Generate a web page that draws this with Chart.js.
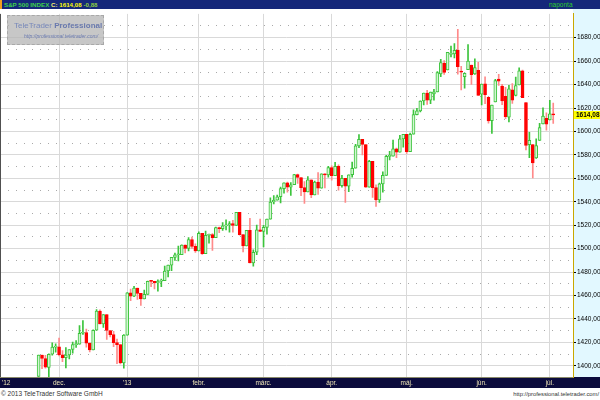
<!DOCTYPE html>
<html><head><meta charset="utf-8">
<script src="https://cdn.jsdelivr.net/npm/chart.js@4/dist/chart.umd.min.js"></script>
<style>
html,body{margin:0;padding:0;background:#fff;width:600px;height:400px;overflow:hidden;font-family:'Liberation Sans',Arial,sans-serif;}
#top{position:absolute;left:0;top:0;width:600px;height:9px;background:#15287a;}
#top .strip{position:absolute;left:0;top:0;width:2px;height:9px;background:#f0a020;}
#top .ttl{position:absolute;left:4px;top:0;font:bold 6.2px/9px 'Liberation Sans',Arial,sans-serif;white-space:nowrap;}
#top .np{position:absolute;left:549px;top:0;font:6.5px/9px 'Liberation Sans',Arial,sans-serif;color:#2ccc2c;white-space:nowrap;}
#wrap{position:absolute;left:0;top:9px;width:600px;height:379px;}
#wm{position:absolute;left:7px;top:15px;width:97px;height:30px;background:rgba(180,180,180,0.75);border:1px dashed #a8a8a8;box-sizing:border-box;}
#wm .t1{position:absolute;left:6px;top:5px;font:8px/9px 'Liberation Sans',Arial,sans-serif;color:#7889bb;white-space:nowrap;}
#wm .t1 b{color:#6a7aae;}
#wm .t2{position:absolute;left:16px;top:17px;font:italic 5px/6px 'Liberation Sans',Arial,sans-serif;color:#6a7ab0;white-space:nowrap;}
#foot1{position:absolute;left:1px;top:389px;font:6.5px/9px 'Liberation Sans',Arial,sans-serif;color:#333;white-space:nowrap;}
#foot2{position:absolute;right:1px;top:390px;font:5.8px/9px 'Liberation Sans',Arial,sans-serif;color:#333;white-space:nowrap;}
</style></head>
<body>
<div id="top"><div class="strip"></div>
<div class="ttl"><span style="color:#3fd24a">S&amp;P 500 INDEX</span> <span style="color:#f4f070">C:</span> <span style="color:#ffff00">1614,08</span> <span style="color:#8fd040">-0,88</span></div>
<div class="np">naponta</div>
</div>
<div id="wrap"><canvas id="c" width="600" height="379"></canvas></div>
<div id="wm"><div class="t1">TeleTrader <b>Professional</b></div><div class="t2">http://professional.teletrader.com/</div></div>
<div id="foot1">© 2013 TeleTrader Software GmbH</div>
<div id="foot2">http://professional.teletrader.com/</div>
<script>
const dates = ["2012-11-23","2012-11-26","2012-11-27","2012-11-28","2012-11-29","2012-11-30",
"2012-12-03","2012-12-04","2012-12-05","2012-12-06","2012-12-07","2012-12-10","2012-12-11","2012-12-12","2012-12-13","2012-12-14","2012-12-17","2012-12-18","2012-12-19","2012-12-20","2012-12-21","2012-12-24","2012-12-26","2012-12-27","2012-12-28","2012-12-31",
"2013-01-02","2013-01-03","2013-01-04","2013-01-07","2013-01-08","2013-01-09","2013-01-10","2013-01-11","2013-01-14","2013-01-15","2013-01-16","2013-01-17","2013-01-18","2013-01-22","2013-01-23","2013-01-24","2013-01-25","2013-01-28","2013-01-29","2013-01-30","2013-01-31",
"2013-02-01","2013-02-04","2013-02-05","2013-02-06","2013-02-07","2013-02-08","2013-02-11","2013-02-12","2013-02-13","2013-02-14","2013-02-15","2013-02-19","2013-02-20","2013-02-21","2013-02-22","2013-02-25","2013-02-26","2013-02-27","2013-02-28",
"2013-03-01","2013-03-04","2013-03-05","2013-03-06","2013-03-07","2013-03-08","2013-03-11","2013-03-12","2013-03-13","2013-03-14","2013-03-15","2013-03-18","2013-03-19","2013-03-20","2013-03-21","2013-03-22","2013-03-25","2013-03-26","2013-03-27","2013-03-28",
"2013-04-01","2013-04-02","2013-04-03","2013-04-04","2013-04-05","2013-04-08","2013-04-09","2013-04-10","2013-04-11","2013-04-12","2013-04-15","2013-04-16","2013-04-17","2013-04-18","2013-04-19","2013-04-22","2013-04-23","2013-04-24","2013-04-25","2013-04-26","2013-04-29","2013-04-30",
"2013-05-01","2013-05-02","2013-05-03","2013-05-06","2013-05-07","2013-05-08","2013-05-09","2013-05-10","2013-05-13","2013-05-14","2013-05-15","2013-05-16","2013-05-17","2013-05-20","2013-05-21","2013-05-22","2013-05-23","2013-05-24","2013-05-28","2013-05-29","2013-05-30","2013-05-31",
"2013-06-03","2013-06-04","2013-06-05","2013-06-06","2013-06-07","2013-06-10","2013-06-11","2013-06-12","2013-06-13","2013-06-14","2013-06-17","2013-06-18","2013-06-19","2013-06-20","2013-06-21","2013-06-24","2013-06-25","2013-06-26","2013-06-27","2013-06-28",
"2013-07-01","2013-07-02"];
const open = [1391.03,1409.15,1406.29,1398.77,1409.96,1415.95,
1416.34,1409.46,1407.05,1409.43,1413.95,1418.07,1418.55,1427.84,1428.48,1419.45,1413.54,1430.47,1446.79,1435.81,1443.67,1430.15,1426.66,1419.83,1418.10,1402.43,
1426.19,1462.42,1459.37,1466.47,1461.89,1457.15,1461.02,1472.12,1472.05,1470.67,1472.33,1472.63,1480.95,1485.98,1492.56,1494.81,1494.82,1502.96,1500.18,1507.84,1501.96,
1498.11,1513.17,1495.71,1511.29,1512.12,1509.39,1517.93,1517.01,1519.43,1520.33,1521.38,1519.79,1530.94,1511.95,1502.42,1515.60,1487.85,1496.94,1515.99,
1514.68,1518.20,1525.20,1539.79,1541.46,1544.26,1551.15,1556.22,1552.48,1554.52,1563.21,1560.70,1552.10,1548.34,1558.71,1545.90,1556.89,1551.69,1563.75,1562.86,
1569.18,1562.17,1570.25,1553.69,1559.98,1553.26,1563.11,1568.61,1587.73,1593.30,1588.84,1552.36,1574.57,1552.03,1541.61,1555.25,1562.50,1578.78,1578.93,1585.16,1582.34,1593.58,
1597.55,1582.77,1597.60,1614.40,1617.55,1625.95,1632.69,1626.69,1632.10,1633.75,1649.13,1658.07,1652.45,1665.71,1666.20,1669.39,1651.62,1646.67,1652.63,1656.57,1649.14,1652.13,
1631.71,1640.73,1629.05,1609.29,1625.27,1644.67,1638.64,1629.94,1612.15,1635.52,1630.64,1639.77,1651.83,1624.62,1588.62,1588.77,1577.52,1592.27,1606.44,1611.12,
1609.78,1614.29];
const high = [1409.16,1409.15,1409.01,1410.31,1419.70,1418.86,
1423.73,1413.14,1415.56,1413.95,1420.34,1421.64,1434.27,1438.59,1431.36,1419.45,1430.67,1448.00,1447.75,1443.70,1443.67,1430.15,1429.42,1422.80,1418.10,1426.74,
1462.43,1465.47,1467.94,1466.47,1461.89,1464.73,1472.30,1472.75,1472.05,1473.31,1473.96,1485.16,1485.98,1492.56,1496.13,1502.27,1503.26,1503.23,1509.35,1509.94,1504.19,
1514.41,1513.17,1514.96,1512.53,1512.90,1518.31,1518.31,1522.29,1524.69,1523.14,1524.24,1530.94,1530.94,1511.95,1515.64,1525.84,1498.99,1520.08,1525.34,
1519.99,1525.27,1543.47,1545.25,1545.78,1552.48,1556.27,1556.77,1556.39,1563.32,1563.62,1560.70,1557.25,1561.56,1558.71,1557.74,1564.91,1563.95,1564.07,1570.28,
1570.57,1573.66,1571.47,1562.60,1559.98,1563.07,1573.89,1589.07,1597.35,1593.30,1588.84,1575.35,1574.57,1554.38,1555.89,1565.55,1579.58,1583.00,1592.64,1585.78,1596.65,1597.57,
1597.55,1598.60,1618.46,1619.77,1626.03,1632.78,1635.01,1633.70,1636.00,1651.10,1661.49,1660.51,1667.47,1672.84,1674.93,1687.18,1655.50,1649.78,1674.21,1656.57,1661.91,1658.99,
1640.42,1646.53,1629.31,1622.56,1644.40,1648.69,1640.13,1637.71,1639.25,1640.80,1646.50,1654.19,1652.45,1624.62,1599.19,1588.77,1593.79,1606.83,1620.07,1615.94,
1626.61,1624.26];
const low = [1391.03,1397.68,1398.03,1385.43,1409.04,1411.63,
1408.46,1403.65,1398.23,1405.93,1410.90,1415.64,1418.55,1426.76,1416.00,1411.88,1413.54,1430.47,1435.80,1432.82,1422.58,1424.66,1416.43,1401.80,1401.58,1398.11,
1426.19,1455.53,1458.99,1456.62,1451.64,1457.15,1461.02,1467.58,1465.69,1463.76,1467.60,1472.63,1475.81,1481.16,1489.90,1489.46,1494.82,1496.33,1498.09,1500.11,1496.76,
1498.11,1495.02,1495.71,1504.71,1498.49,1509.39,1513.61,1515.61,1515.93,1514.02,1514.14,1519.79,1511.41,1497.29,1502.42,1487.85,1485.01,1494.88,1514.46,
1501.48,1512.29,1525.20,1538.11,1541.46,1539.13,1547.36,1548.24,1545.37,1554.52,1555.74,1545.13,1538.57,1548.34,1543.55,1545.90,1546.22,1551.69,1551.90,1561.08,
1558.47,1562.17,1549.80,1552.52,1539.50,1548.63,1560.92,1568.61,1586.17,1579.97,1552.28,1552.36,1543.69,1536.03,1539.40,1548.19,1562.50,1575.80,1578.93,1577.56,1582.34,1586.50,
1581.28,1582.77,1597.60,1614.21,1616.64,1622.70,1623.09,1623.71,1626.74,1633.75,1646.68,1648.60,1652.45,1663.52,1662.67,1648.86,1635.53,1636.88,1652.63,1640.05,1648.61,1630.74,
1622.72,1623.62,1607.09,1598.23,1625.27,1639.26,1622.92,1610.92,1608.07,1623.96,1630.34,1639.77,1628.91,1584.32,1577.70,1560.33,1577.09,1592.27,1606.44,1601.06,
1609.78,1606.77];
const close = [1409.15,1406.29,1398.94,1409.93,1415.95,1416.18,
1409.46,1407.05,1409.28,1413.94,1418.07,1418.55,1427.84,1428.48,1419.45,1413.58,1430.36,1446.79,1435.81,1443.69,1430.15,1426.66,1419.83,1418.10,1402.43,1426.19,
1462.42,1459.37,1466.47,1461.89,1457.15,1461.02,1472.12,1472.05,1470.68,1472.34,1472.63,1480.94,1485.98,1492.56,1494.81,1494.82,1502.96,1500.18,1507.84,1501.96,1498.11,
1513.17,1495.71,1511.29,1512.12,1509.39,1517.93,1517.01,1519.43,1520.33,1521.38,1519.79,1530.94,1511.95,1502.42,1515.60,1487.85,1496.94,1515.99,1514.68,
1518.20,1525.20,1539.79,1541.46,1544.26,1551.18,1556.22,1552.48,1554.52,1563.23,1560.70,1552.10,1548.34,1558.71,1545.80,1556.89,1551.69,1563.77,1562.85,1569.19,
1562.17,1570.25,1553.69,1559.98,1553.28,1563.07,1568.61,1587.73,1593.37,1588.85,1552.36,1574.57,1552.01,1541.61,1555.25,1562.50,1578.78,1578.79,1585.16,1582.24,1593.61,1597.57,
1582.70,1597.59,1614.42,1617.50,1625.96,1632.69,1626.67,1633.70,1633.77,1650.34,1658.78,1650.47,1667.47,1666.29,1669.16,1655.35,1650.51,1649.60,1660.06,1648.36,1654.41,1630.74,
1640.42,1631.38,1608.90,1622.56,1643.38,1642.81,1626.13,1612.52,1636.36,1626.73,1639.04,1651.81,1628.93,1588.19,1592.43,1573.09,1588.03,1603.26,1613.20,1606.28,
1614.96,1614.08];

const monthLabels = ["'12","dec.","'13","febr.","márc.","ápr.","máj.","jún.","júl."];
const priceTicks = [1400,1420,1440,1460,1480,1500,1520,1540,1560,1580,1600,1620,1640,1660,1680];
const halfTicks = [1410,1430,1450,1470,1490,1510,1530,1550,1570,1590,1610,1630,1650,1670,1690];

// tick positions: a leading year tick, then the first trading day of each month
const monthTickPos = [-9.5];
dates.forEach((d, i) => { if (i > 0 && d.slice(0,7) !== dates[i-1].slice(0,7)) monthTickPos.push(i); });

const isUp = close.map((c, i) => c >= open[i]);
const UP_FILL = '#d3f6d3', UP_LINE = '#3cc43c', DN_FILL = '#ff0000', DN_WICK = '#ff8a8a';

const bgPlugin = {
  id: 'bg',
  beforeDraw(chart) {
    const {ctx, chartArea: a, width, height} = chart;
    ctx.save();
    ctx.fillStyle = '#ffffff'; ctx.fillRect(0, 0, width, height);
    ctx.fillStyle = '#e2f8ff'; ctx.fillRect(a.right, 0, width - a.right, a.bottom);
    ctx.fillStyle = '#0b0b3c'; ctx.fillRect(0, a.bottom, width, height - a.bottom);
    ctx.fillStyle = '#8a8a6a'; ctx.fillRect(0, a.bottom, a.right, 1);
    ctx.restore();
  },
  afterDraw(chart) {
    const {ctx, chartArea: a, width} = chart;
    ctx.save();
    ctx.fillStyle = '#505050'; ctx.fillRect(0, a.top, 1, a.bottom - a.top);
    const last = close[close.length - 1];
    const y = chart.scales.y.getPixelForValue(last);
    ctx.fillStyle = '#ffff00';
    ctx.fillRect(a.right + 1, Math.round(y) - 4, width - a.right - 1, 8);
    ctx.fillStyle = '#000';
    ctx.font = 'bold 6.5px "Liberation Sans", Arial, sans-serif';
    ctx.textBaseline = 'middle';
    ctx.fillText(last.toFixed(2).replace('.', ','), a.right + 3, y);
    ctx.restore();
  }
};

Chart.defaults.font.family = "'Liberation Sans', Arial, sans-serif";

new Chart(document.getElementById('c'), {
  type: 'bar',
  data: {
    datasets: [
      {
        label: 'body',
        data: dates.map((d, i) => ({x: i, y: [open[i], close[i]]})),
        backgroundColor: isUp.map(u => u ? UP_FILL : DN_FILL),
        borderColor: isUp.map(u => u ? UP_LINE : DN_FILL),
        borderWidth: 1, borderSkipped: false,
        barThickness: 3, minBarLength: 1, grouped: false, order: 0
      },
      {
        label: 'wick',
        data: dates.map((d, i) => ({x: i, y: [low[i], high[i]]})),
        backgroundColor: isUp.map(u => u ? UP_LINE : DN_WICK),
        borderWidth: 0, barThickness: 1, grouped: false, order: 1
      }
    ]
  },
  options: {
    responsive: false, animation: false,
    layout: {padding: {top: 1, left: 0, right: 0, bottom: 0}},
    plugins: {legend: {display: false}, tooltip: {enabled: false}},
    scales: {
      x: {
        type: 'linear', min: -11.2, max: 156.8, offset: false,
        afterBuildTicks: s => { s.ticks = monthTickPos.map(v => ({value: v})); },
        afterFit: s => { s.height = 11; },
        grid: {offset: false, drawTicks: false, color: c => (c.tick && c.tick.value < 0) ? 'rgba(0,0,0,0)' : '#d9d9d9'},
        border: {display: false},
        ticks: {autoSkip: false, maxRotation: 0, padding: 2, color: '#efe6b8', font: {size: 6.5},
                callback: (v, i) => monthLabels[i]}
      },
      y: {
        position: 'right', min: 1390.5, max: 1700.3,
        afterBuildTicks: s => { s.ticks = priceTicks.map(v => ({value: v})); },
        afterFit: s => { s.width = 27; },
        grid: {color: '#d9d9d9', tickColor: '#000', tickLength: 3},
        border: {display: true, color: '#c9a800'},
        ticks: {padding: 1, color: '#000', font: {size: 6.5}, callback: v => v.toFixed(2).replace('.', ',')}
      },
      yd: {
        position: 'left', min: 1390.5, max: 1700.3,
        afterBuildTicks: s => { s.ticks = halfTicks.map(v => ({value: v})); },
        afterFit: s => { s.width = 0; },
        grid: {color: '#a9a9a9', drawTicks: false},
        border: {display: false, dash: [1, 7]},
        ticks: {display: false}
      }
    }
  },
  plugins: [bgPlugin]
});
</script>
</body></html>
